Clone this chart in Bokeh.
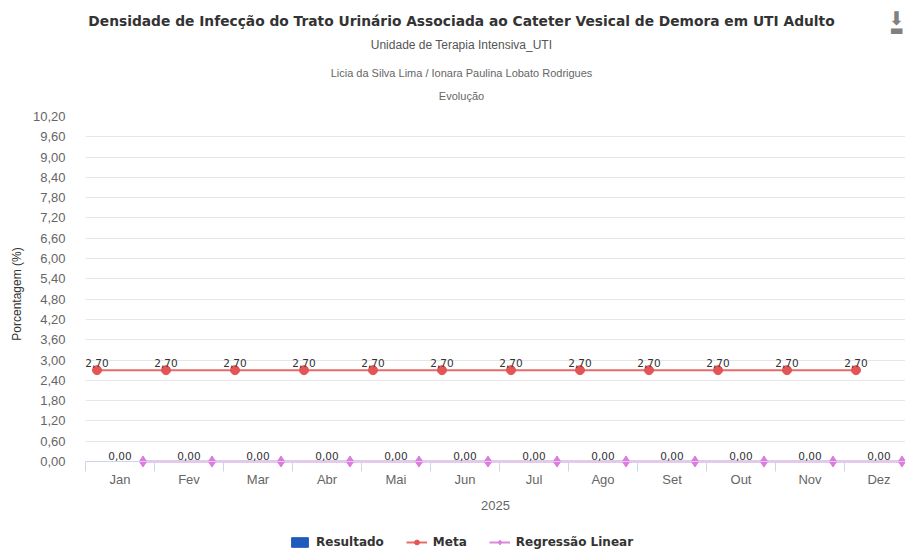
from bokeh.plotting import figure
from bokeh.layouts import column
from bokeh.models import (FixedTicker, CustomJSTickFormatter, Legend, Label,
                          LegendItem, Range1d, ColumnDataSource, Span)
from bokeh.core.properties import value
from bokeh.embed import file_html
from bokeh.resources import INLINE

# ---------------- data ----------------
months = ["Jan", "Fev", "Mar", "Abr", "Mai", "Jun",
          "Jul", "Ago", "Set", "Out", "Nov", "Dez"]
resultado = [0.0, 0.0, 0.0, 0.0, 0.0, 0.0, 0.0, 0.0, 0.0, 0.0, 0.0, 0.0]
meta = [2.7, 2.7, 2.7, 2.7, 2.7, 2.7, 2.7, 2.7, 2.7, 2.7, 2.7, 2.7]
regressao = [0.0, 0.0, 0.0, 0.0, 0.0, 0.0, 0.0, 0.0, 0.0, 0.0, 0.0, 0.0]
y_ticks = [0.0, 0.6, 1.2, 1.8, 2.4, 3.0, 3.6, 4.2, 4.8, 5.4, 6.0,
           6.6, 7.2, 7.8, 8.4, 9.0, 9.6, 10.2]
x_axis_title = "2025"
y_axis_title = "Porcentagem (%)"
title_text = "Densidade de Infecção do Trato Urinário Associada ao Cateter Vesical de Demora em UTI Adulto"
subtitle_1 = "Unidade de Terapia Intensiva_UTI"
subtitle_2 = "Licia da Silva Lima / Ionara Paulina Lobato Rodrigues"
subtitle_3 = "Evolução"
series_names = ["Resultado", "Meta", "Regressão Linear"]

# colours
C_RES = "#1e5bbd"
C_META_LINE, C_META_PT = "#e96a6a", "#e35555"
C_REG_LINE, C_REG_PT = "#d98ad9", "#e07ae0"

# ---------------- layout (page pixels) ----------------
W, H = 905, 552
HEAD_H = 106                 # header strip (titles)
LEG_H = 24                   # legend strip
MAIN_H = H - HEAD_H - LEG_H
FL, FR, FT, FB0 = 85, 905, 116, 461      # frame left/right, y of top tick, y of zero line
TICK_LEN = 10
FB = FB0 + TICK_LEN
CAT_W = 69.0
x_end = (FR - FL) / CAT_W
y_max = y_ticks[-1]
px_per_unit = (FB0 - FT) / y_max
y_lo = -TICK_LEN / px_per_unit


def fmt(v):
    return f"{v:.2f}".replace(".", ",")


def bare(fig):
    fig.outline_line_color = None
    fig.background_fill_color = "white"
    fig.border_fill_color = "white"
    fig.xgrid.visible = False
    fig.ygrid.visible = False


# ---------------- header (frame is aligned with the main frame: x = page px) ----------------
head = figure(width=W, height=HEAD_H, output_backend="svg", toolbar_location=None,
              x_range=Range1d(FL, FR), y_range=Range1d(HEAD_H, 0),
              x_axis_location=None, y_axis_location=None, min_border=0,
              min_border_left=FL)
bare(head)


def head_label(text, x, y, size, color, font, style="normal"):
    head.add_layout(Label(x=x, y=y, text=text, text_align="center",
                          text_baseline="middle", text_font=font,
                          text_font_size=size, text_color=color,
                          text_font_style=style))


head_label(title_text, 461, 20, "13.8px", "#333333", "DejaVu Sans", "bold")
head_label(subtitle_1, 461, 44, "12px", "#555555", "Liberation Sans")
head_label(subtitle_2, 461, 72, "11px", "#666666", "Liberation Sans")
head_label(subtitle_3, 461, 95, "11px", "#666666", "Liberation Sans")
head_label("⬇", 896, 17, "19px", "#808080", "DejaVu Sans")
head_label("▬", 896, 29, "15px", "#808080", "DejaVu Sans")

# ---------------- main plot ----------------
n = len(months)
centers = [i + 0.5 for i in range(n)]
meta_x = [c - 1.0 / 3.0 for c in centers]
reg_x = [c + 1.0 / 3.0 for c in centers]

top_border = FT - HEAD_H
p = figure(width=W, height=MAIN_H, output_backend="svg", toolbar_location=None,
           x_range=Range1d(0, x_end), y_range=Range1d(y_lo, y_max),
           min_border_left=FL, min_border_right=W - FR,
           min_border_top=top_border,
           min_border_bottom=MAIN_H - (FB - HEAD_H))
p.outline_line_color = None
p.background_fill_color = "white"
p.border_fill_color = "white"

p.xgrid.visible = False
p.ygrid.ticker = FixedTicker(ticks=y_ticks)
p.ygrid.grid_line_color = "#e6e6e6"
p.ygrid.grid_line_width = 1

p.add_layout(Span(location=0, dimension="width", line_color="#ccd6eb", line_width=1))

res_src = ColumnDataSource(dict(x=centers, y=resultado, lab=[fmt(v) for v in resultado]))
meta_src = ColumnDataSource(dict(x=meta_x, y=meta, lab=[fmt(v) for v in meta]))
reg_src = ColumnDataSource(dict(x=reg_x, y=regressao))


def draw_series(fig):
    rb = fig.vbar(x="x", top="y", source=res_src, width=0.3, color=C_RES)
    ml = fig.line("x", "y", source=meta_src, line_color=C_META_LINE, line_width=2)
    mp = fig.scatter("x", "y", source=meta_src, marker="circle", size=9,
                     fill_color=C_META_PT, line_color=C_META_PT)
    rl = fig.line("x", "y", source=reg_src, line_color=C_REG_LINE, line_width=2)
    rp = fig.scatter("x", "y", source=reg_src, marker="diamond", size=11,
                     fill_color=C_REG_PT, line_color=C_REG_PT)
    return rb, ml, mp, rl, rp


draw_series(p)

p.text("x", "y", text="lab", source=res_src, text_align="center",
       text_baseline="middle", y_offset=-6, text_font=value("DejaVu Sans"),
       text_font_size="10.5px", text_color="#333333")
p.text("x", "y", text="lab", source=meta_src, text_align="center",
       text_baseline="middle", y_offset=-7, text_font=value("DejaVu Sans"),
       text_font_size="10.5px", text_color="#333333")

xa = p.xaxis[0]
xa.ticker = FixedTicker(ticks=centers, minor_ticks=[float(i) for i in range(n + 1)])
xa.formatter = CustomJSTickFormatter(args=dict(m=months),
                                     code="return m[Math.floor(tick)];")
xa.axis_line_color = None
xa.major_tick_out = 0
xa.major_tick_in = 0
xa.minor_tick_out = 0
xa.minor_tick_in = TICK_LEN
xa.minor_tick_line_color = "#ccd6eb"
xa.major_label_standoff = 0
xa.major_label_text_font = "Liberation Sans"
xa.major_label_text_font_size = "13px"
xa.major_label_text_color = "#666666"
xa.axis_label = x_axis_title
xa.axis_label_text_font = "Liberation Sans"
xa.axis_label_text_font_size = "13px"
xa.axis_label_text_font_style = "normal"
xa.axis_label_text_color = "#666666"
xa.axis_label_standoff = 11

ya = p.yaxis[0]
ya.ticker = FixedTicker(ticks=y_ticks, minor_ticks=[])
ya.formatter = CustomJSTickFormatter(code="return tick.toFixed(2).replace('.', ',');")
ya.axis_line_color = None
ya.major_tick_line_color = None
ya.minor_tick_line_color = None
ya.major_label_standoff = 14
ya.major_label_text_font = "Liberation Sans"
ya.major_label_text_font_size = "13px"
ya.major_label_text_color = "#666666"
ya.axis_label = y_axis_title
ya.axis_label_text_font = "Liberation Sans"
ya.axis_label_text_font_size = "12px"
ya.axis_label_text_font_style = "normal"
ya.axis_label_text_color = "#333333"
ya.axis_label_standoff = 6

# ---------------- legend strip (series drawn out of view, only the keys show) ----------------
leg = figure(width=W, height=LEG_H, output_backend="svg", toolbar_location=None,
             x_range=Range1d(0, x_end), y_range=Range1d(1000, 1001),
             x_axis_location=None, y_axis_location=None, min_border=0,
             min_border_left=FL)
bare(leg)
r_res, r_ml, r_mp, r_rl, r_rp = draw_series(leg)

legend = Legend(items=[
    LegendItem(label=series_names[0], renderers=[r_res]),
    LegendItem(label=series_names[1], renderers=[r_ml, r_mp]),
    LegendItem(label=series_names[2], renderers=[r_rl, r_rp]),
], orientation="horizontal", location=(289 - FL, 3))
legend.glyph_width = 21
legend.glyph_height = 12
legend.label_standoff = 6
legend.spacing = 22
legend.padding = 0
legend.margin = 0
legend.border_line_color = None
legend.background_fill_alpha = 0
legend.label_text_font = "DejaVu Sans"
legend.label_text_font_style = "bold"
legend.label_text_font_size = "12px"
legend.label_text_color = "#333333"
legend.label_height = 12
leg.add_layout(legend, "center")

layout = column(head, p, leg, spacing=0)
open("out.html", "w").write(file_html(layout, INLINE))
